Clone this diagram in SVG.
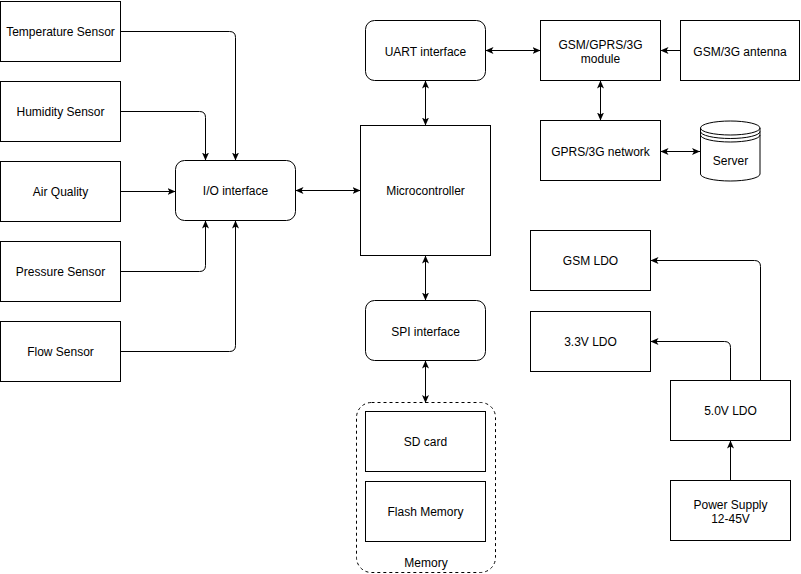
<svg xmlns="http://www.w3.org/2000/svg" width="801" height="574" viewBox="0 0 801 574">
<style>
.b{fill:#fff;stroke:#000;stroke-width:1}
.t{font-family:"Liberation Sans",Arial,sans-serif;font-size:12px;fill:#000;text-anchor:middle}
.c{fill:none;stroke:#000;stroke-width:1}
</style>
<defs>
<marker id="a" viewBox="0 0 8 8" refX="8" refY="4" markerWidth="8" markerHeight="8" markerUnits="userSpaceOnUse" orient="auto-start-reverse">
<path d="M0,0.5 L8,4 L0,7.5 L2,4 Z" fill="#000"/>
</marker>
</defs>
<rect width="801" height="574" fill="#fff"/>
<g id="connectors">
<path class="c" d="M120.5,31.5 H229.5 Q235.5,31.5 235.5,37.5 V160.5" marker-end="url(#a)"/>
<path class="c" d="M120.5,111.5 H199.5 Q205.5,111.5 205.5,117.5 V160.5" marker-end="url(#a)"/>
<path class="c" d="M120.5,191.5 H175.5" marker-end="url(#a)"/>
<path class="c" d="M120.5,271.5 H199.5 Q205.5,271.5 205.5,265.5 V220.5" marker-end="url(#a)"/>
<path class="c" d="M120.5,351.5 H229.5 Q235.5,351.5 235.5,345.5 V220.5" marker-end="url(#a)"/>
<path class="c" d="M295.5,190.5 H360.5" marker-start="url(#a)" marker-end="url(#a)"/>
<path class="c" d="M425.5,80.5 V125.5" marker-start="url(#a)" marker-end="url(#a)"/>
<path class="c" d="M425.5,255.5 V300.5" marker-start="url(#a)" marker-end="url(#a)"/>
<path class="c" d="M425.5,360.5 V403" marker-start="url(#a)" marker-end="url(#a)"/>
<path class="c" d="M485.5,50.5 H540.5" marker-start="url(#a)" marker-end="url(#a)"/>
<path class="c" d="M680.5,50.5 H660.5" marker-end="url(#a)"/>
<path class="c" d="M600.5,80.5 V120.5" marker-start="url(#a)" marker-end="url(#a)"/>
<path class="c" d="M660.5,151.5 H700" marker-start="url(#a)" marker-end="url(#a)"/>
<path class="c" d="M730.5,480.5 V440.5" marker-end="url(#a)"/>
<path class="c" d="M730.5,380.5 V347.5 Q730.5,341.5 724.5,341.5 H650.5" marker-end="url(#a)"/>
<path class="c" d="M760.5,380.5 V266.5 Q760.5,260.5 754.5,260.5 H650.5" marker-end="url(#a)"/>
</g>
<g id="temperature"><rect class="b" x="0.5" y="1.5" width="120" height="60"/><text class="t" x="60.5" y="36">Temperature Sensor</text></g>
<g id="humidity"><rect class="b" x="0.5" y="81.5" width="120" height="60"/><text class="t" x="60.5" y="116">Humidity Sensor</text></g>
<g id="airquality"><rect class="b" x="0.5" y="161.5" width="120" height="60"/><text class="t" x="60.5" y="196">Air Quality</text></g>
<g id="pressure"><rect class="b" x="0.5" y="241.5" width="120" height="60"/><text class="t" x="60.5" y="276">Pressure Sensor</text></g>
<g id="flow"><rect class="b" x="0.5" y="321.5" width="120" height="60"/><text class="t" x="60.5" y="356">Flow Sensor</text></g>
<g id="io"><rect class="b" x="175.5" y="160.5" width="120" height="60" rx="9"/><text class="t" x="235.5" y="195">I/O interface</text></g>
<g id="micro"><rect class="b" x="360.5" y="125.5" width="130" height="130"/><text class="t" x="425.5" y="195">Microcontroller</text></g>
<g id="uart"><rect class="b" x="365.5" y="20.5" width="120" height="60" rx="9"/><text class="t" x="425.5" y="56">UART interface</text></g>
<g id="spi"><rect class="b" x="365.5" y="300.5" width="120" height="60" rx="9"/><text class="t" x="425.5" y="336">SPI interface</text></g>
<g id="module"><rect class="b" x="540.5" y="20.5" width="120" height="60"/><text class="t" x="600.5" y="49">GSM/GPRS/3G</text><text class="t" x="600.5" y="63">module</text></g>
<g id="antenna"><rect class="b" x="680.5" y="20.5" width="119" height="60"/><text class="t" x="740" y="56">GSM/3G antenna</text></g>
<g id="network"><rect class="b" x="540.5" y="120.5" width="120" height="60"/><text class="t" x="600.5" y="156">GPRS/3G network</text></g>
<g id="server">
<path class="b" d="M700.5,128 A29.75,7 0 0 1 760,128 V174 A29.75,7 0 0 1 700.5,174 Z"/>
<path class="c" d="M700.5,128 A29.75,7 0 0 0 760,128 M700.5,131.5 A29.75,7 0 0 0 760,131.5 M700.5,135 A29.75,7 0 0 0 760,135"/>
<text class="t" x="730.5" y="165">Server</text>
</g>
<g id="memory">
<rect x="356.5" y="402.5" width="139" height="170" rx="15" fill="none" stroke="#000" stroke-dasharray="3 3"/>
<text class="t" x="426" y="567">Memory</text>
</g>
<g id="sdcard"><rect class="b" x="365.5" y="411.5" width="120" height="60"/><text class="t" x="425.5" y="446">SD card</text></g>
<g id="flash"><rect class="b" x="365.5" y="481.5" width="120" height="60"/><text class="t" x="425.5" y="516">Flash Memory</text></g>
<g id="gsmldo"><rect class="b" x="530.5" y="230.5" width="120" height="60"/><text class="t" x="590.5" y="265">GSM LDO</text></g>
<g id="ldo33"><rect class="b" x="530.5" y="311.5" width="120" height="60"/><text class="t" x="590.5" y="346">3.3V LDO</text></g>
<g id="ldo50"><rect class="b" x="670.5" y="380.5" width="120" height="60"/><text class="t" x="730.5" y="415">5.0V LDO</text></g>
<g id="power"><rect class="b" x="670.5" y="480.5" width="120" height="60"/><text class="t" x="730.5" y="509">Power Supply</text><text class="t" x="730.5" y="523">12-45V</text></g>
</svg>
